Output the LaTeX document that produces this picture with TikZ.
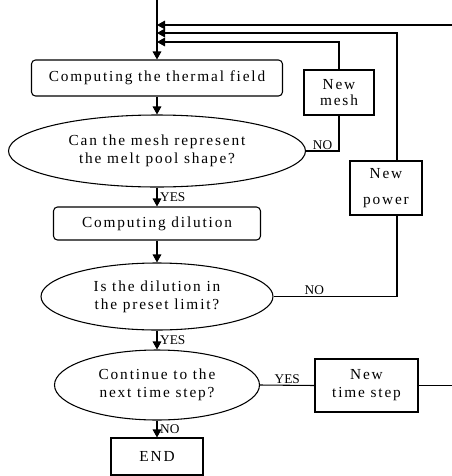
\documentclass[tikz,border=0pt]{standalone}
\usepackage{fontspec}
\setmainfont{Liberation Serif}[LetterSpace=12]
\newfontfamily\tagfont{Liberation Serif}
\usetikzlibrary{positioning,arrows.meta,shapes.geometric}

\begin{document}
\begin{tikzpicture}[
  x=0.75pt, y=-0.75pt,
  font=\fontsize{11.5}{13.5}\selectfont,
  >={Triangle[length=6pt,width=6.5pt]},
  line width=0.8pt,
  proc/.style={draw, rounded corners=3pt, align=center, inner sep=0pt},
  plain/.style={draw, align=center, inner sep=0pt},
  ask/.style={draw, ellipse, align=center, inner sep=0pt},
  arr/.style={->},
  lbl/.style={inner sep=1pt, font=\tagfont\fontsize{10}{10}\selectfont},
]
  \useasboundingbox (0,0) rectangle (451,476);
  % main column
  \node[proc, minimum width=188.25pt, minimum height=27pt] (thermal) at (157,78)
    {Computing the thermal field};
  \node[ask, minimum width=222.75pt, minimum height=54pt] (ask1) at (157,151)
    {Can the mesh represent\\the melt pool shape?};
  \node[proc, minimum width=155.25pt, minimum height=24.75pt] (dilution) at (157,223.5)
    {Computing dilution};
  \node[ask, minimum width=174pt, minimum height=50.25pt] (ask2) at (157,296.5)
    {Is the dilution in\\the preset limit?};
  \node[ask, minimum width=153.75pt, minimum height=52.5pt] (ask3) at (157,385)
    {Continue to the\\next time step?};
  \node[plain, minimum width=69pt, minimum height=27.75pt] (finish) at (157,456.5)
    {END};
  % side boxes
  \node[plain, minimum width=52.5pt, minimum height=33.75pt] (mesh) at (339,92.5)
    {New\\[-2pt]mesh};
  \node[plain, minimum width=54pt, minimum height=40.5pt] (power) at (386,188)
    {New\\[6.5pt]power};
  \node[plain, minimum width=77.25pt, minimum height=39.75pt] (tstep) at (366.5,385.5)
    {New\\time step};
  % join points on the main line
  \coordinate (start) at (157,0);
  \coordinate (jtime) at (157,25);
  \coordinate (jpower) at (157,33);
  \coordinate (jmesh) at (157,42);
  \coordinate (pline) at (397,0);
  \coordinate (edge) at (456,0);
  % Arrows
  \draw[arr] (start) -- (thermal.north);
  \draw[arr] (thermal) -- (ask1);
  \draw[arr] (ask1) -- node[lbl, right, xshift=1pt] {YES} (dilution);
  \draw[arr] (dilution) -- (ask2);
  \draw[arr] (ask2) -- node[lbl, right, xshift=1pt] {YES} (ask3);
  \draw[arr] (ask3) -- node[lbl, right, xshift=1pt] {NO} (finish);
  % loops back
  \draw (ask1.east) -- node[lbl, above] {NO} (ask1.east -| mesh.south) -- (mesh.south);
  \draw[arr] (mesh.north) |- (jmesh);
  \draw (ask2.east) -- node[lbl, above, pos=0.33] {NO} (ask2.east -| pline)
    -- (power.south -| pline);
  \draw[arr] (power.north -| pline) |- (jpower);
  \draw (ask3.east) -- node[lbl, above] {YES} (tstep.west);
  \draw[arr] (tstep.east) -- (tstep.east -| edge) |- (jtime);
\end{tikzpicture}
\end{document}
